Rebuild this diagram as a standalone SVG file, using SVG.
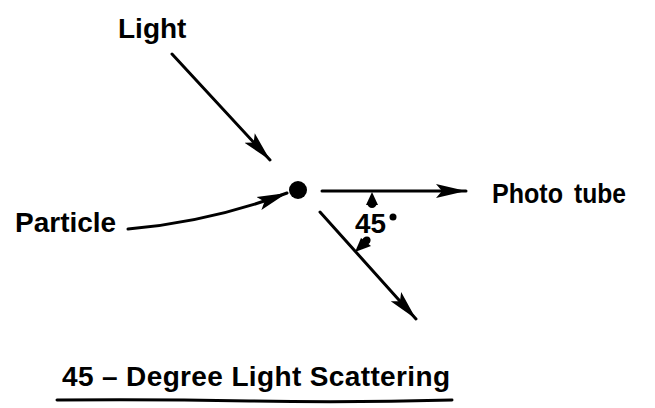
<svg xmlns="http://www.w3.org/2000/svg" width="655" height="408" viewBox="0 0 655 408">
<style>
  .lbl { font-family: "Liberation Sans", Arial, sans-serif; font-weight: bold; fill: #000; }
  .ln { stroke: #000; stroke-width: 3; fill: none; stroke-linecap: round; }
</style>
<defs>
  <marker id="ah" markerUnits="userSpaceOnUse" markerWidth="32" markerHeight="18" refX="30" refY="8" orient="auto">
    <path d="M0,1 L30,8 L0,15 L6,8 Z" fill="#000"/>
  </marker>
</defs>
<rect width="655" height="408" fill="#fff"/>

<g id="light-label"><text class="lbl" x="118" y="38" font-size="28">Light</text></g>
<g id="particle-label"><text class="lbl" x="15" y="232" font-size="28">Particle</text></g>
<g id="phototube-label">
  <text class="lbl" x="492" y="203" font-size="27" textLength="71" lengthAdjust="spacingAndGlyphs">Photo</text>
  <text class="lbl" x="574" y="203" font-size="27" textLength="52" lengthAdjust="spacingAndGlyphs">tube</text>
</g>
<g id="particle"><circle cx="298" cy="190" r="9" fill="#000"/></g>
<g id="angle">
  <text class="lbl" x="355" y="233" font-size="28" textLength="31" lengthAdjust="spacingAndGlyphs">45</text>
  <circle cx="393" cy="217" r="3.5" fill="#000"/>
  <path d="M372,192 L366,205 L378,205 Z" fill="#000"/>
  <ellipse cx="372" cy="204" rx="4.5" ry="4" fill="#000"/>
  <path d="M355,252 L361,238 L371,246 Z" fill="#000"/>
  <ellipse cx="366" cy="241" rx="5" ry="4" fill="#000" transform="rotate(-40 366 241)"/>
</g>
<g id="title">
  <text class="lbl" x="62" y="386" font-size="28" textLength="388" lengthAdjust="spacing">45 – Degree Light Scattering</text>
  <path class="ln" d="M57,400 Q150,399 250,401 T452,400" stroke-width="2.5"/>
</g>
<g id="connectors">
  <line class="ln" x1="172" y1="54" x2="270" y2="160" marker-end="url(#ah)"/>
  <path class="ln" d="M128,229 Q210,222 287,193" marker-end="url(#ah)"/>
  <line class="ln" x1="322" y1="191" x2="466" y2="191" marker-end="url(#ah)"/>
  <line class="ln" x1="320" y1="212" x2="416" y2="319" marker-end="url(#ah)"/>
</g>
</svg>
